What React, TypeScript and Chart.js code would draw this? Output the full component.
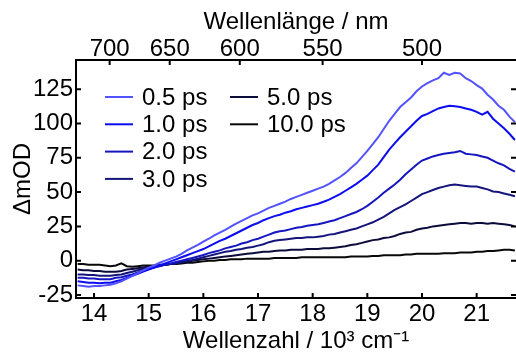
import React, { useEffect, useRef } from "react";
import { Chart, registerables } from "chart.js";

Chart.register(...registerables);

// Wavenumber (10^3 cm^-1)
const wavenumber = [
  13.7, 13.8, 13.9, 14.0, 14.1, 14.2, 14.3, 14.4, 14.5, 14.6,
  14.7, 14.8, 14.9, 15.0, 15.1, 15.2, 15.3, 15.4, 15.5, 15.6,
  15.7, 15.8, 15.9, 16.0, 16.1, 16.2, 16.3, 16.4, 16.5, 16.6,
  16.7, 16.8, 16.9, 17.0, 17.1, 17.2, 17.3, 17.4, 17.5, 17.6,
  17.7, 17.8, 17.9, 18.0, 18.1, 18.2, 18.3, 18.4, 18.5, 18.6,
  18.7, 18.8, 18.9, 19.0, 19.1, 19.2, 19.3, 19.4, 19.5, 19.6,
  19.7, 19.8, 19.9, 20.0, 20.1, 20.2, 20.3, 20.4, 20.5, 20.6,
  20.7, 20.8, 20.9, 21.0, 21.1, 21.2, 21.3, 21.4, 21.5, 21.6,
  21.7,
];

const seriesLabels = ["0.5 ps", "1.0 ps", "2.0 ps", "3.0 ps", "5.0 ps", "10.0 ps"];
const seriesColors = ["#5252ff", "#0c0cf2", "#1616c0", "#14147c", "#0c0c3c", "#080808"];

const ps05 = [
  -18, -18.5, -19, -18.5, -18.5, -18, -17.5, -16.5, -15, -13,
  -11, -9, -7, -5, -3.5, -1.5, 0, 1.5, 3, 5,
  7.5, 9.5, 11.5, 13.9, 16, 18.5, 20.5, 22.5, 24.8, 27,
  29, 31, 33, 34.5, 36.5, 38.5, 40, 41.5, 43, 45,
  46.5, 48, 49.5, 51, 52.5, 54, 56, 58.5, 61, 64,
  67.5, 71, 75.5, 80, 85, 90, 96, 102, 107, 112,
  115.5, 119, 123.5, 127, 129.5, 131.5, 133, 137, 135.5, 137,
  136.5, 133, 131, 128, 125.5, 121, 117.5, 113, 110, 105,
  101,
];
const ps10 = [
  -15, -15.5, -16, -16, -16.5, -16, -16, -15, -14, -12.5,
  -11, -9.5, -8, -6.5, -5, -3.5, -2, -0.5, 1, 2.5,
  4, 5.5, 7, 8.5, 10.5, 12.5, 14.5, 16, 18, 20,
  22, 24, 26, 27.5, 29.5, 31, 32.5, 33.5, 35, 36,
  37.5, 38.5, 39.5, 40.5, 41.5, 43, 44.5, 46.5, 48.5, 51,
  53.5, 56, 59, 62, 66, 70, 75.5, 81, 85.5, 90,
  94, 98, 102, 105.5, 107, 109, 111, 112, 113, 112.5,
  112, 111, 110, 108.5, 106.5, 108.5, 103.5, 100, 96.5, 92.5,
  88,
];
const ps20 = [
  -12.5, -12.5, -13, -13, -13.5, -13.5, -13.5, -12.5, -12, -11,
  -10, -8.5, -7.5, -6, -5, -4, -3, -2, -1, 0,
  1, 2, 3, 4.2, 5.5, 6.5, 7.5, 9, 10, 11,
  12.5, 13.5, 15, 16, 17.5, 19, 20.5, 21.5, 22, 23,
  24, 24.5, 25.5, 26, 26.5, 27.5, 28.5, 29.5, 31, 32.5,
  34, 35.5, 37.5, 40, 43, 46, 49.5, 52.5, 55.5, 59,
  63, 66.5, 70, 73, 74.5, 76, 77, 78, 78.5, 79,
  80, 78, 77.5, 77, 76, 75, 73, 71, 69.5, 67,
  65,
];
const ps30 = [
  -10, -10, -10.5, -10.5, -11, -11, -11, -10.5, -10, -9,
  -8, -7, -6, -5.5, -4.5, -3.5, -3, -2.5, -2, -1,
  0, 0.5, 1.5, 2.5, 3.5, 4.5, 5.5, 6.5, 7, 8,
  8.5, 9.5, 10, 11, 12, 13.5, 14.5, 15, 15.5, 16,
  16.5, 16.5, 17, 17, 17.5, 18, 19, 19.5, 20.5, 21.5,
  22.5, 23.5, 25, 26.5, 28, 30, 32, 34.5, 37, 39,
  41, 43.5, 46, 48.5, 50, 51.5, 53, 54, 55, 55.5,
  55, 54.5, 54, 54, 53, 52, 50.5, 50, 49, 48,
  47,
];
const ps50 = [
  -6.5, -7, -7, -7.5, -7.5, -8, -8, -8, -7.5, -6.5,
  -6, -5.5, -5, -4.5, -4, -3.5, -3, -2.5, -2, -1.5,
  -1, 0, 0.5, 1, 1.5, 2, 2.5, 3, 3.5, 4,
  4.5, 5, 5.5, 6, 6.5, 6.5, 7, 7.5, 7.5, 8,
  8, 8, 8.5, 8.5, 8.5, 9, 9, 9.5, 10, 10.5,
  11.5, 12, 13, 14, 15, 15.5, 16.5, 17, 18, 19.5,
  20.5, 21, 22.5, 23.5, 24, 25, 25.5, 26, 26.5, 27,
  27.5, 27.5, 27, 27.5, 27.5, 27, 27.5, 27, 26.5, 26,
  25,
];
const ps100 = [
  -2.5, -2.5, -3, -3, -3, -3.5, -4, -3.5, -2, -4,
  -4.5, -4, -3.5, -3.5, -3.5, -3, -3, -2.5, -2.5, -2,
  -1.5, -1.5, -1, -0.5, 0, 0, 0.5, 0.5, 1, 1,
  1, 1.5, 1.5, 1.5, 1.5, 1.5, 2, 2, 2, 2,
  2, 2.5, 2.5, 2.5, 2.5, 2.5, 2.5, 2.5, 2.5, 2.5,
  3, 3, 3, 3, 3.5, 3.5, 4, 4, 4, 4,
  4.5, 4.5, 5, 5, 5, 5, 5, 5.5, 5.5, 5.5,
  6, 6, 6, 6.5, 6.5, 7, 7, 7.5, 8, 8,
  7.5,
];

const xTicks = [14, 15, 16, 17, 18, 19, 20, 21];
const yTicks = [-25, 0, 25, 50, 75, 100, 125];
const nmTicks = [700, 650, 600, 550, 500];

const FONT = "'Liberation Sans', Arial, sans-serif";
const FS = 24;

export default function App() {
  const ref = useRef<HTMLCanvasElement>(null);

  useEffect(() => {
    if (!ref.current) return;
    const series = [ps05, ps10, ps20, ps30, ps50, ps100];
    const datasets = seriesLabels.map((label, i) => ({
      label,
      data: wavenumber.map((x, j) => ({ x, y: series[i][j] })),
      borderColor: seriesColors[i],
      backgroundColor: seriesColors[i],
      borderWidth: 2,
      pointRadius: 0,
      fill: false,
      tension: 0,
    }));

    const inwardTicks = {
      id: "inwardTicks",
      afterDraw(chart: any) {
        const ctx = chart.ctx;
        const { left, right, top, bottom } = chart.chartArea;
        const len = 5;
        ctx.save();
        ctx.strokeStyle = "#000";
        ctx.lineWidth = 2;
        ctx.beginPath();
        const sx = chart.scales.x;
        xTicks.forEach((v) => {
          const p = sx.getPixelForValue(v);
          ctx.moveTo(p, bottom);
          ctx.lineTo(p, bottom - len);
        });
        const sx2 = chart.scales.x2;
        nmTicks.forEach((nm) => {
          const p = sx2.getPixelForValue(10000 / nm);
          ctx.moveTo(p, top);
          ctx.lineTo(p, top + len);
        });
        const sy = chart.scales.y;
        yTicks.forEach((v) => {
          const p = sy.getPixelForValue(v);
          ctx.moveTo(left, p);
          ctx.lineTo(left + len, p);
          ctx.moveTo(right, p);
          ctx.lineTo(right - len, p);
        });
        ctx.stroke();
        ctx.restore();
      },
    };

    const customLegend = {
      id: "customLegend",
      afterDraw(chart: any) {
        const ctx = chart.ctx;
        const { left, top } = chart.chartArea;
        ctx.save();
        ctx.font = `${FS}px ${FONT}`;
        ctx.textBaseline = "middle";
        ctx.textAlign = "left";
        chart.data.datasets.forEach((ds: any, i: number) => {
          const col = i < 4 ? 0 : 1;
          const row = i < 4 ? i : i - 4;
          const x0 = left + 29 + col * 125;
          const y = top + 37 + row * 27.3;
          ctx.strokeStyle = ds.borderColor;
          ctx.lineWidth = 2;
          ctx.beginPath();
          ctx.moveTo(x0, y);
          ctx.lineTo(x0 + 28, y);
          ctx.stroke();
          ctx.fillStyle = "#000";
          ctx.fillText(ds.label, x0 + 37, y + 1);
        });
        ctx.restore();
      },
    };

    const tickFont = { family: FONT, size: FS };

    const chart = new Chart(ref.current, {
      type: "line",
      data: { datasets },
      options: {
        responsive: true,
        maintainAspectRatio: false,
        animation: false,
        layout: { padding: 0 },
        plugins: {
          legend: { display: false },
          tooltip: { enabled: false },
        },
        scales: {
          x: {
            type: "linear",
            position: "bottom",
            min: 13.67,
            max: 21.72,
            afterBuildTicks: (s: any) => {
              s.ticks = xTicks.map((v) => ({ value: v }));
            },
            afterFit: (s: any) => {
              s.height = 58;
            },
            ticks: {
              font: tickFont,
              color: "#000",
              padding: 1.5,
              maxRotation: 0,
              autoSkip: false,
            },
            grid: { display: false, drawTicks: false },
            border: { display: true, color: "#000", width: 2 },
            title: {
              display: true,
              text: "Wellenzahl / 10³ cm⁻¹",
              font: tickFont,
              color: "#000",
              padding: { top: 0, bottom: 0.5 },
            },
          },
          x2: {
            type: "linear",
            position: "top",
            min: 13.67,
            max: 21.72,
            afterBuildTicks: (s: any) => {
              s.ticks = nmTicks.map((nm) => ({ value: 10000 / nm }));
            },
            afterFit: (s: any) => {
              s.height = 60;
            },
            ticks: {
              font: tickFont,
              color: "#000",
              padding: -3.5,
              maxRotation: 0,
              autoSkip: false,
              callback: (_v: any, i: number) => String(nmTicks[i]),
            },
            grid: { display: false, drawTicks: false },
            border: { display: true, color: "#000", width: 2 },
            title: {
              display: true,
              text: "Wellenlänge / nm",
              font: tickFont,
              color: "#000",
              padding: { top: 8, bottom: 0 },
            },
          },
          y: {
            type: "linear",
            position: "left",
            min: -27.2,
            max: 146.3,
            afterBuildTicks: (s: any) => {
              s.ticks = yTicks.map((v) => ({ value: v }));
            },
            afterFit: (s: any) => {
              s.width = 76;
            },
            ticks: {
              font: tickFont,
              color: "#000",
              padding: 3,
              autoSkip: false,
            },
            grid: { display: false, drawTicks: false },
            border: { display: true, color: "#000", width: 2 },
            title: {
              display: true,
              text: "ΔmOD",
              font: tickFont,
              color: "#000",
              padding: { top: 8.6, bottom: 0 },
            },
          },
        },
      },
      plugins: [inwardTicks, customLegend],
    });

    return () => chart.destroy();
  }, []);

  return (
    <div style={{ position: "fixed", left: 0, top: 0, width: 516, height: 356, background: "#fff" }}>
      <canvas ref={ref} />
    </div>
  );
}
